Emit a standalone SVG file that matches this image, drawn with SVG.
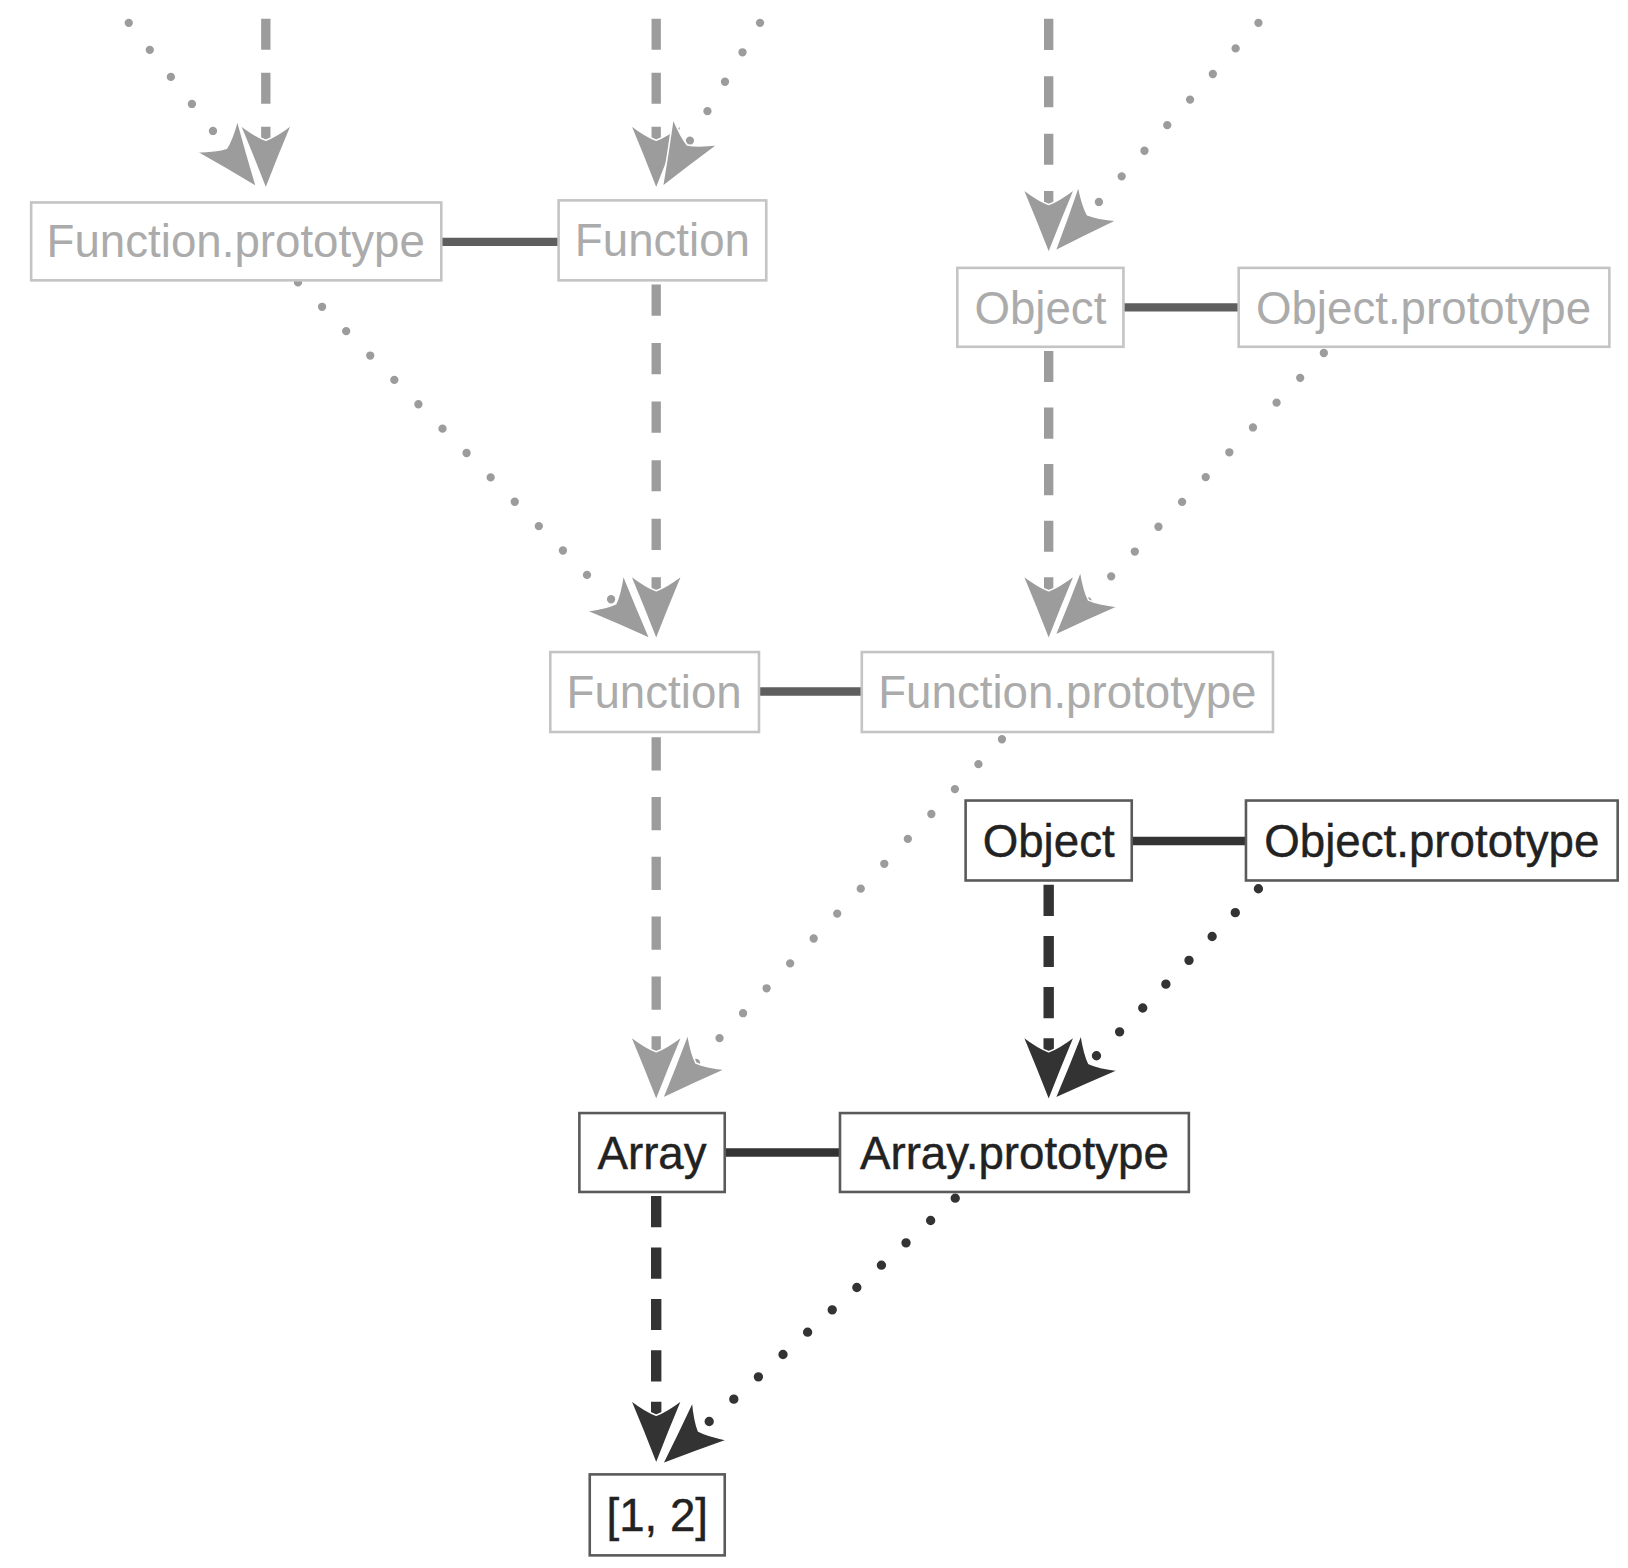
<svg xmlns="http://www.w3.org/2000/svg" width="1628" height="1568" viewBox="0 0 1628 1568">
<style>
.bg{fill:#ffffff}
.gbox{fill:#ffffff;stroke:#c4c4c4;stroke-width:2.5}
.dbox{fill:#ffffff;stroke:#5a5a5a;stroke-width:2.5}
.gtxt{font-family:"Liberation Sans",Arial,sans-serif;font-size:44px;fill:#ababab;text-anchor:middle}
.dtxt{font-family:"Liberation Sans",Arial,sans-serif;font-size:44px;fill:#222222;stroke:#222222;stroke-width:0.4;text-anchor:middle}
.link{stroke:#5e5e5e;stroke-width:8;fill:none}
.dlink{stroke:#333333;stroke-width:8;fill:none}
.gdash{stroke:#9c9c9c;stroke-width:9;stroke-dasharray:30 22;fill:none;marker-start:url(#agr)}
.ddash{stroke:#333333;stroke-width:10;stroke-dasharray:30 22;fill:none;marker-start:url(#adr)}
.gdot{stroke:#9c9c9c;stroke-width:8;stroke-linecap:round;stroke-dasharray:0 33;fill:none;marker-end:url(#ag)}
.ddot{stroke:#333333;stroke-width:9;stroke-linecap:round;stroke-dasharray:0 32;fill:none;marker-end:url(#ad)}
</style>
<defs>
<marker id="ag" markerUnits="userSpaceOnUse" viewBox="-70 -32 80 64" markerWidth="80" markerHeight="64" refX="-30" refY="0" orient="auto">
<path d="M0,0 Q-31,-12 -62,-25 Q-50,-9 -47,0 Q-50,9 -62,25 Q-31,12 0,0 Z" fill="#9c9c9c" stroke="#ffffff" stroke-width="1.5"/>
</marker>
<marker id="ad" markerUnits="userSpaceOnUse" viewBox="-70 -32 80 64" markerWidth="80" markerHeight="64" refX="-30" refY="0" orient="auto">
<path d="M0,0 Q-31,-12 -62,-25 Q-50,-9 -47,0 Q-50,9 -62,25 Q-31,12 0,0 Z" fill="#333333" stroke="#ffffff" stroke-width="1.5"/>
</marker>
<marker id="agr" markerUnits="userSpaceOnUse" viewBox="-70 -32 80 64" markerWidth="80" markerHeight="64" refX="-30" refY="0" orient="auto-start-reverse">
<path d="M0,0 Q-31,-12 -62,-25 Q-50,-9 -47,0 Q-50,9 -62,25 Q-31,12 0,0 Z" fill="#9c9c9c" stroke="#ffffff" stroke-width="1.5"/>
</marker>
<marker id="adr" markerUnits="userSpaceOnUse" viewBox="-70 -32 80 64" markerWidth="80" markerHeight="64" refX="-30" refY="0" orient="auto-start-reverse">
<path d="M0,0 Q-31,-12 -62,-25 Q-50,-9 -47,0 Q-50,9 -62,25 Q-31,12 0,0 Z" fill="#333333" stroke="#ffffff" stroke-width="1.5"/>
</marker>
</defs>
<rect class="bg" x="0" y="0" width="1628" height="1568"/>
<g transform="scale(1.0383)">
<g id="connectors">
<line class="link" x1="425" y1="233" x2="538" y2="233"/>
<line class="link" x1="1082" y1="296" x2="1193" y2="296"/>
<line class="link" x1="731" y1="666" x2="830" y2="666"/>
<line class="dlink" x1="1090" y1="810" x2="1200" y2="810"/>
<line class="dlink" x1="698" y1="1110" x2="809" y2="1110"/>
<line class="gdash" x1="256" y1="152" x2="256" y2="18"/>
<line class="gdot" x1="124" y1="22" x2="228.6" y2="156.3"/>
<line class="gdash" x1="632" y1="152" x2="632" y2="18"/>
<line class="gdot" x1="732" y1="22" x2="653.3" y2="154.2"/>
<line class="gdash" x1="1010" y1="214" x2="1010" y2="18" style="stroke-dasharray:30 25.3"/>
<line class="gdot" x1="1212" y1="22" x2="1036" y2="219.6"/>
<line class="gdash" x1="632" y1="586" x2="632" y2="274" style="stroke-dasharray:30 26.4"/>
<line class="gdot" x1="287" y1="272" x2="604.9" y2="593.7"/>
<line class="gdash" x1="1010" y1="586" x2="1010" y2="338" style="stroke-dasharray:30 24.5"/>
<line class="gdot" x1="1275" y1="340" x2="1036.7" y2="590.3"/>
<line class="gdash" x1="632" y1="1030" x2="632" y2="710" style="stroke-dasharray:32 25.6"/>
<line class="gdot" x1="965" y1="712" x2="658.6" y2="1036.2"/>
<line class="ddash" x1="1010" y1="1030" x2="1010" y2="852" style="stroke-dasharray:30 19.3"/>
<line class="ddot" x1="1212" y1="856" x2="1036.9" y2="1036.5"/>
<line class="ddash" x1="632" y1="1380" x2="632" y2="1152" style="stroke-dasharray:30 19.5"/>
<line class="ddot" x1="920" y1="1154" x2="660.2" y2="1389.8"/>
</g>
<g id="node-function-prototype-top">
<rect class="gbox" x="30" y="195" width="395" height="75"/>
<text class="gtxt" x="227" y="248">Function.prototype</text>
</g>
<g id="node-function-top">
<rect class="gbox" x="538" y="193" width="200" height="77"/>
<text class="gtxt" x="638" y="247">Function</text>
</g>
<g id="node-object-top">
<rect class="gbox" x="922" y="258" width="160" height="76"/>
<text class="gtxt" x="1002" y="312">Object</text>
</g>
<g id="node-object-prototype-top">
<rect class="gbox" x="1193" y="258" width="357" height="76"/>
<text class="gtxt" x="1371" y="312">Object.prototype</text>
</g>
<g id="node-function-mid">
<rect class="gbox" x="530" y="628" width="201" height="77"/>
<text class="gtxt" x="630" y="682">Function</text>
</g>
<g id="node-function-prototype-mid">
<rect class="gbox" x="830" y="628" width="396" height="77"/>
<text class="gtxt" x="1028" y="682">Function.prototype</text>
</g>
<g id="node-object">
<rect class="dbox" x="930" y="771" width="160" height="77"/>
<text class="dtxt" x="1010" y="825">Object</text>
</g>
<g id="node-object-prototype">
<rect class="dbox" x="1200" y="771" width="358" height="77"/>
<text class="dtxt" x="1379" y="825">Object.prototype</text>
</g>
<g id="node-array">
<rect class="dbox" x="558" y="1072" width="140" height="76"/>
<text class="dtxt" x="628" y="1126">Array</text>
</g>
<g id="node-array-prototype">
<rect class="dbox" x="809" y="1072" width="336" height="76"/>
<text class="dtxt" x="977" y="1126">Array.prototype</text>
</g>
<g id="node-instance">
<rect class="dbox" x="568" y="1420" width="130" height="78"/>
<text class="dtxt" x="633" y="1475">[1, 2]</text>
</g>
</g>
</svg>
